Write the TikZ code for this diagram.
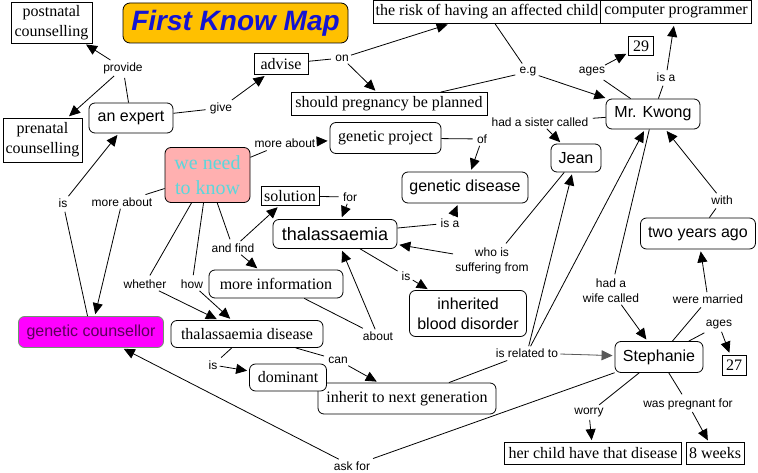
\documentclass[tikz,border=0pt]{standalone}
\usepackage{fontspec}
\setmainfont{Liberation Serif}
\setsansfont{Liberation Sans}
\usetikzlibrary{arrows.meta}

\definecolor{titlegold}{RGB}{255,192,0}
\definecolor{titleblue}{RGB}{20,20,210}
\definecolor{needpink}{RGB}{255,176,176}
\definecolor{needcyan}{RGB}{90,215,220}
\definecolor{counsmag}{RGB}{255,0,255}
\definecolor{counstext}{RGB}{90,0,90}
\definecolor{counsedge}{RGB}{110,150,110}

\begin{document}
\begin{tikzpicture}[
    x=1pt, y=-1pt,
    line width=0.8pt,
    >={Triangle[length=11pt,width=10pt]},
    every path/.append style={shorten >=2pt},
    concept/.style={draw, rounded corners=6pt, fill=white, inner sep=0pt, align=center, font=\sffamily\fontsize{16}{20}\selectfont},
    serifconcept/.style={concept, font=\rmfamily\fontsize{16}{20}\selectfont},
    boxed/.style={draw, fill=white, inner sep=0pt, align=center, font=\rmfamily\fontsize{16}{20}\selectfont},
    phrase/.style={inner sep=2pt, align=center, font=\sffamily\fontsize{12}{15}\selectfont}
]
\path[fill=white, use as bounding box] (0,0) rectangle (758,473);

% concepts
\node[boxed, minimum width=81pt, minimum height=41pt] (postnatal) at (51.5,22.5) {postnatal\\counselling};
\node[draw, rounded corners=7pt, fill=titlegold, text=titleblue, minimum width=225pt, minimum height=40pt, font=\sffamily\bfseries\itshape\fontsize{28}{30}\selectfont] (title) at (235.5,23) {First Know Map};
\node[boxed, minimum width=79pt, minimum height=44pt] (prenatal) at (42.5,140) {prenatal\\counselling};
\node[concept, minimum width=84pt, minimum height=30pt] (expert) at (131,118) {an expert};
\node[boxed, minimum width=54pt, minimum height=21pt] (advise) at (281,64) {advise};
\node[boxed, minimum width=228pt, minimum height=23pt] (risk) at (487,12) {the risk of having an affected child};
\node[boxed, minimum width=151pt, minimum height=23pt] (programmer) at (676,12) {computer programmer};
\node[boxed, minimum width=25pt, minimum height=19pt] (age29) at (641,46) {29};
\node[boxed, minimum width=196pt, minimum height=23pt] (planned) at (389,104) {should pregnancy be planned};
\node[concept, minimum width=94pt, minimum height=30pt] (kwong) at (653,114) {Mr. Kwong};
\node[serifconcept, minimum width=111pt, minimum height=31pt] (project) at (385.5,138) {genetic project};
\node[concept, minimum width=50pt, minimum height=28pt] (jean) at (576,158) {Jean};
\node[serifconcept, fill=needpink, text=needcyan, minimum width=85pt, minimum height=55pt, font=\rmfamily\fontsize{20}{25}\selectfont] (need) at (207.5,175) {we need\\to know};
\node[concept, minimum width=126pt, minimum height=31pt] (gdisease) at (465,187.5) {genetic disease};
\node[boxed, minimum width=58pt, minimum height=19pt] (solution) at (290,196) {solution};
\node[concept, minimum width=124pt, minimum height=29pt, font=\sffamily\fontsize{18}{21}\selectfont] (thal) at (335,234) {thalassaemia};
\node[concept, minimum width=115pt, minimum height=31pt] (twoyears) at (698,233.5) {two years ago};
\node[serifconcept, minimum width=134pt, minimum height=28pt] (moreinfo) at (276,284) {more information};
\node[concept, minimum width=117pt, minimum height=46pt] (blood) at (468,313.5) {inherited\\blood disorder};
\node[concept, draw=counsedge, fill=counsmag, text=counstext, minimum width=145pt, minimum height=31pt] (counsellor) at (91,332) {genetic counsellor};
\node[serifconcept, minimum width=152pt, minimum height=27pt] (thaldisease) at (247,334) {thalassaemia disease};
\node[serifconcept, minimum width=178pt, minimum height=31pt] (inherit) at (407,398.5) {inherit to next generation};
\node[serifconcept, minimum width=77pt, minimum height=27pt] (dominant) at (288,377.5) {dominant};
\node[concept, minimum width=88pt, minimum height=31pt] (stephanie) at (659,357) {Stephanie};
\node[boxed, minimum width=24pt, minimum height=20pt] (age27) at (734,365) {27};
\node[boxed, minimum width=177pt, minimum height=22pt] (worrybox) at (593,453.5) {her child have that disease};
\node[boxed, minimum width=58pt, minimum height=22pt] (weeks) at (715,453.5) {8 weeks};

% linking phrases
\node[phrase] (provide) at (123,68) {provide};
\node[phrase] (give) at (221,108) {give};
\node[phrase] (on) at (342,58) {on};
\node[phrase] (eg) at (528,72) {e.g};
\node[phrase] (ages1) at (592,72) {ages};
\node[phrase] (isa1) at (666,77) {is a};
\node[phrase] (sister) at (540,122) {had a sister called};
\node[phrase] (moreabout1) at (285,143) {more about};
\node[phrase] (of) at (482,139) {of};
\node[phrase] (is1) at (63,203) {is};
\node[phrase] (moreabout2) at (122,202) {more about};
\node[phrase] (for) at (350,197) {for};
\node[phrase] (isa2) at (450,223) {is a};
\node[phrase] (suffering) at (492,260.5) {who is\\suffering from};
\node[phrase] (andfind) at (233,248) {and find};
\node[phrase] (whether) at (145,284) {whether};
\node[phrase] (how) at (192,284) {how};
\node[phrase] (is2) at (406,276) {is};
\node[phrase] (about) at (378,336) {about};
\node[phrase] (with) at (722,200) {with};
\node[phrase] (wife) at (611,290.5) {had a\\wife called};
\node[phrase] (married) at (708,299) {were married};
\node[phrase] (ages2) at (719,325) {ages};
\node[phrase] (related) at (527,353) {is related to};
\node[phrase] (is3) at (213,365) {is};
\node[phrase] (can) at (338,360) {can};
\node[phrase] (worry) at (589,413) {worry};
\node[phrase] (pregnant) at (688,404) {was pregnant for};
\node[phrase] (askfor) at (352,466) {ask for};

% links
\draw (expert) -- (provide);
\draw[->] (provide) -- (postnatal);
\draw[->] (provide) -- (prenatal);
\draw (expert) -- (give);
\draw[->] (give) -- (advise);
\draw (advise) -- (on);
\draw[->] (on) -- (risk);
\draw[->] (on) -- (planned);
\draw (risk) -- (eg);
\draw (planned) -- (eg);
\draw[->] (eg) -- (kwong);
\draw (kwong) -- (ages1);
\draw[->] (ages1) -- (age29);
\draw (kwong) -- (isa1);
\draw[->] (isa1) -- (programmer);
\draw (kwong) -- (sister);
\draw[->] (sister) -- (jean);
\draw (need) -- (moreabout1);
\draw[->] (moreabout1) -- (project);
\draw (project) -- (of);
\draw[->] (of) -- (gdisease);
\draw (need) -- (moreabout2);
\draw[->] (moreabout2) -- (counsellor);
\draw (counsellor) -- (is1);
\draw[->] (is1) -- (expert);
\draw (solution) -- (for);
\draw[->] (for) -- (thal);
\draw (thal) -- (isa2);
\draw[->] (isa2) -- (gdisease);
\draw (jean) -- (suffering);
\draw[->] (suffering) -- (thal);
\draw (need) -- (andfind);
\draw[->] (andfind) -- (solution);
\draw[->] (andfind) -- (moreinfo);
\draw (need) -- (whether);
\draw[->] (whether) -- (thaldisease);
\draw (need) -- (how);
\draw[->] (how) -- (thaldisease);
\draw (thal) -- (is2);
\draw[->] (is2) -- (blood);
\draw (moreinfo) -- (about);
\draw[->] (about) -- (thal);
\draw (thaldisease) -- (is3);
\draw[->] (is3) -- (dominant);
\draw (thaldisease) -- (can);
\draw[->] (can) -- (inherit);
\draw (inherit) -- (related);
\draw[->] (related) -- (jean);
\draw[->] (related) -- (kwong);
\draw[->, draw=black!65, fill=black!65] (related) -- (stephanie);
\draw (stephanie) -- (askfor);
\draw[->] (askfor) -- (counsellor);
\draw (kwong) -- (wife);
\draw[->] (wife) -- (stephanie);
\draw (stephanie) -- (married);
\draw[->] (married) -- (twoyears);
\draw (twoyears) -- (with);
\draw[->] (with) -- (kwong);
\draw (stephanie) -- (ages2);
\draw[->] (ages2) -- (age27);
\draw (stephanie) -- (worry);
\draw[->] (worry) -- (worrybox);
\draw (stephanie) -- (pregnant);
\draw[->] (pregnant) -- (weeks);
\end{tikzpicture}
\end{document}
